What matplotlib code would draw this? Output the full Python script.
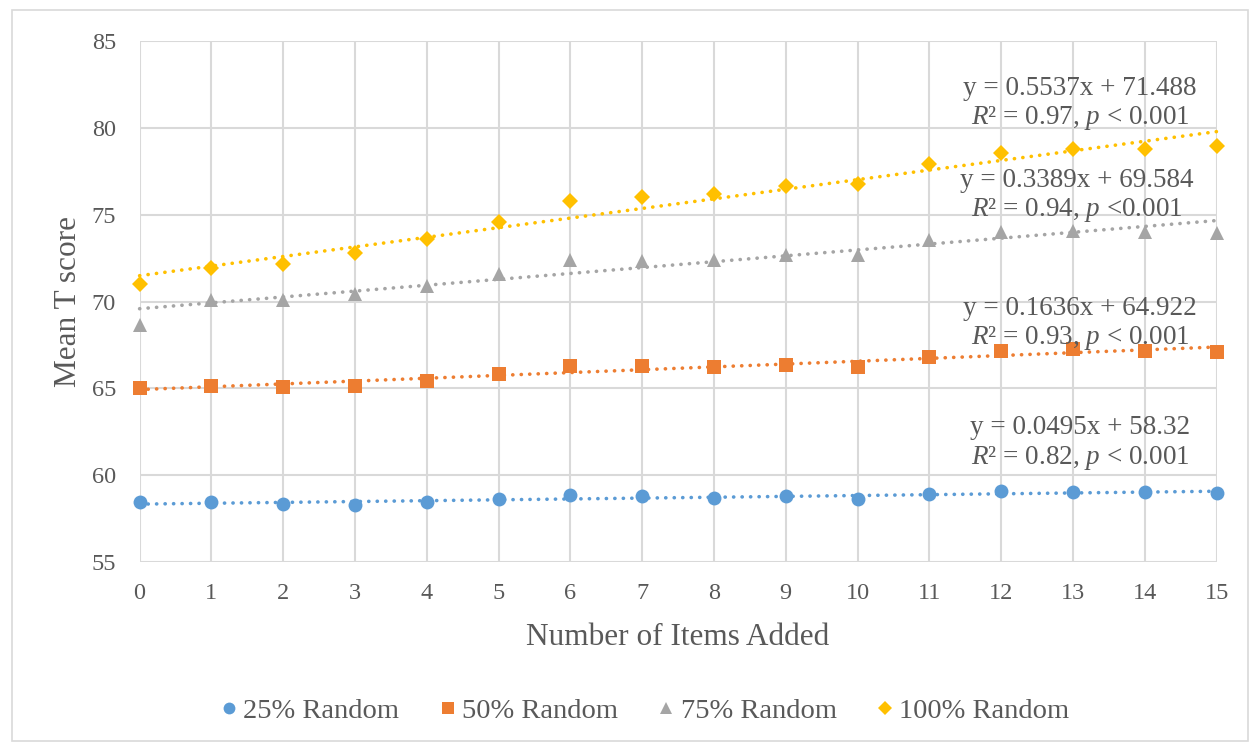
import numpy as np
import matplotlib
matplotlib.use("Agg")
import matplotlib.pyplot as plt
from matplotlib.patches import Rectangle
from matplotlib.lines import Line2D

plt.rcParams["font.family"] = ["Liberation Serif", "DejaVu Serif"]
plt.rcParams["mathtext.fontset"] = "custom"
plt.rcParams["mathtext.rm"] = "Liberation Serif"
plt.rcParams["mathtext.it"] = "Liberation Serif:italic"

items_added = list(range(16))

random_25 = [58.43, 58.45, 58.34, 58.28, 58.47, 58.59, 58.84, 58.78,
             58.68, 58.78, 58.64, 58.93, 59.07, 59.01, 59.03, 58.97]
random_50 = [65.00, 65.15, 65.08, 65.15, 65.42, 65.81, 66.31, 66.27,
             66.21, 66.33, 66.25, 66.81, 67.17, 67.27, 67.13, 67.09]
random_75 = [68.67, 70.10, 70.07, 70.42, 70.90, 71.57, 72.38, 72.32,
             72.38, 72.66, 72.70, 73.53, 74.00, 74.07, 74.00, 73.95]
random_100 = [71.00, 71.95, 72.16, 72.80, 73.60, 74.60, 75.80, 76.00,
              76.20, 76.68, 76.80, 77.90, 78.56, 78.77, 78.80, 78.94]

series_labels = ["25% Random", "50% Random", "75% Random", "100% Random"]
slopes = [0.0495, 0.1636, 0.3389, 0.5537]
intercepts = [58.32, 64.922, 69.584, 71.488]
r_squared = ["0.82", "0.93", "0.94", "0.97"]
p_text = ["< 0.001", "< 0.001", "<0.001", "< 0.001"]
intercept_fmt = ["{:.2f}", "{:.3f}", "{:.3f}", "{:.3f}"]

y_ticks = [55, 60, 65, 70, 75, 80, 85]

colors = ["#5B9BD5", "#ED7D31", "#A5A5A5", "#FFC000"]
markers = ["o", "s", "^", "D"]
marker_sizes = [10, 9.5, 10.5, 8.5]
text_color = "#595959"
grid_color = "#D9D9D9"

W, H = 1249, 742
fig = plt.figure(figsize=(W / 100, H / 100), dpi=100)
fig.patches.append(Rectangle((12 / W, 1 - 741 / H), 1236 / W, 731 / H,
                             transform=fig.transFigure, fill=False,
                             edgecolor=grid_color, linewidth=1.2))

ax = fig.add_axes([139.6 / W, 1 - 561.7 / H, (1216.6 - 139.6) / W,
                   (561.7 - 41.3) / H])

x = np.array(items_added)
all_series = [random_25, random_50, random_75, random_100]
for vals, color, mk, ms, a, b in zip(all_series, colors, markers, marker_sizes,
                                     slopes, intercepts):
    xs = np.array([x.min(), x.max()], dtype=float)
    ax.plot(xs, a * xs + b, color=color, linewidth=2.6,
            linestyle=(0, (0.05, 2.3)), dash_capstyle="round", zorder=3,
            clip_on=False)
    ax.plot(x, vals, linestyle="none", marker=mk, markersize=ms, color=color,
            markeredgewidth=0, zorder=4, clip_on=False)

# regression equations placed near the right end of each trend line
eq_positions = [(13.1, 62.75, 60.95), (13.1, 69.62, 67.9),
                (13.05, 77.0, 75.27), (13.1, 82.3, 80.58)]
for (xp, y1, y2), a, b, r2, pt, fmt in zip(eq_positions, slopes, intercepts,
                                          r_squared, p_text, intercept_fmt):
    ax.text(xp, y1, ("y = {:.4f}x + " + fmt).format(a, b), ha="center",
            va="center", fontsize=19.5, color=text_color, zorder=5)
    ax.text(xp, y2, r"$\mathit{R}$² = " + r2 + r", $\mathit{p}$ " + pt,
            ha="center", va="center", fontsize=19.5, color=text_color, zorder=5)

ax.set_xlim(0, 15)
ax.set_ylim(55, 85)
ax.set_xticks(items_added)
ax.set_yticks(y_ticks)
ax.grid(True, color=grid_color, linewidth=1.5, zorder=0)
ax.set_axisbelow(True)
for s in ax.spines.values():
    s.set_visible(False)
ax.tick_params(axis="both", length=0, labelsize=17.5, colors=text_color)
ax.tick_params(axis="x", pad=15)
ax.tick_params(axis="y", pad=17)

ax.set_xlabel("Number of Items Added", fontsize=22.5, color=text_color)
ax.xaxis.set_label_coords(0.5, -0.118)
ax.set_ylabel("Mean T score", fontsize=22.5, color=text_color)
ax.yaxis.set_label_coords(-0.053, 0.5)

handles = [Line2D([], [], linestyle="none", marker=mk, markersize=ms * 0.85,
                  color=c, markeredgewidth=0)
           for mk, ms, c in zip(markers, marker_sizes, colors)]
leg = fig.legend(handles, series_labels, loc="center",
                 bbox_to_anchor=(645 / W, 1 - 711 / H), ncol=4, frameon=False,
                 fontsize=20.5, handlelength=0.6, handletextpad=0.2,
                 columnspacing=1.4)
for t in leg.get_texts():
    t.set_color(text_color)

fig.savefig("out.png", dpi=100)
